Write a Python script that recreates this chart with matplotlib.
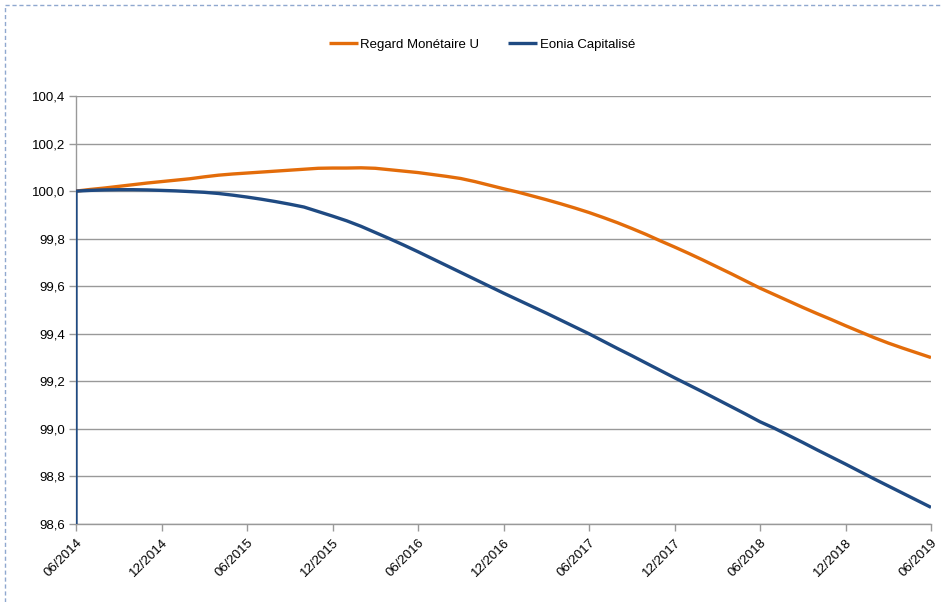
import matplotlib
matplotlib.use("Agg")
import matplotlib.pyplot as plt
from matplotlib.lines import Line2D

plt.rcParams['font.family'] = ['Liberation Sans', 'DejaVu Sans']

# months since 06/2014
months = list(range(0, 61))
regard = [100.000, 100.007, 100.013, 100.020, 100.027, 100.034, 100.040, 100.046, 100.052, 100.060,
          100.067, 100.072, 100.076, 100.080, 100.084, 100.088, 100.092, 100.096, 100.097, 100.097,
          100.098, 100.096, 100.090, 100.084, 100.078, 100.070, 100.062, 100.053, 100.040, 100.025,
          100.010, 99.996, 99.980, 99.964, 99.947, 99.929, 99.910, 99.889, 99.867, 99.843,
          99.818, 99.791, 99.765, 99.738, 99.710, 99.681, 99.652, 99.622, 99.592, 99.565,
          99.538, 99.511, 99.485, 99.460, 99.434, 99.409, 99.384, 99.361, 99.340, 99.320, 99.300]

eonia_months = [0] + months
eonia = [98.6, 100.000, 100.003, 100.005, 100.006, 100.006, 100.005, 100.003, 100.001, 99.998, 99.995,
         99.990, 99.983, 99.975, 99.966, 99.956, 99.945, 99.933, 99.914, 99.895, 99.875,
         99.852, 99.826, 99.800, 99.773, 99.745, 99.716, 99.687, 99.658, 99.629, 99.600,
         99.571, 99.543, 99.515, 99.487, 99.458, 99.429, 99.400, 99.369, 99.338, 99.308,
         99.277, 99.246, 99.215, 99.185, 99.155, 99.124, 99.093, 99.062, 99.030, 99.003,
         98.973, 98.943, 98.912, 98.882, 98.852, 98.821, 98.790, 98.760, 98.730, 98.700, 98.670]

xtick_pos = [0, 6, 12, 18, 24, 30, 36, 42, 48, 54, 60]
xtick_labels = ['06/2014', '12/2014', '06/2015', '12/2015', '06/2016', '12/2016',
                '06/2017', '12/2017', '06/2018', '12/2018', '06/2019']
ytick_vals = [98.6, 98.8, 99.0, 99.2, 99.4, 99.6, 99.8, 100.0, 100.2, 100.4]
ytick_labels = ['98,6', '98,8', '99,0', '99,2', '99,4', '99,6', '99,8', '100,0', '100,2', '100,4']

W, H = 943, 602
fig = plt.figure(figsize=(W / 100, H / 100), dpi=100)
ax = fig.add_axes([76 / W, 1 - 524 / H, (931 - 76) / W, (524 - 96) / H])

orange = '#E36C0A'
blue = '#1F4A82'
grid_c = '#999999'

ax.plot(months, regard, color=orange, lw=2.4, label='Regard Monétaire U', solid_capstyle='butt', zorder=3)
ax.plot(eonia_months, eonia, color=blue, lw=2.4, label='Eonia Capitalisé', solid_capstyle='butt', zorder=4)

ax.set_xlim(0, 60)
ax.set_ylim(98.6, 100.4)
ax.set_yticks(ytick_vals)
ax.set_yticklabels(ytick_labels, fontsize=9.5)
ax.set_xticks(xtick_pos)
ax.set_xticklabels(xtick_labels, fontsize=9.5, rotation=45, ha='right', va='top', rotation_mode='anchor')
ax.yaxis.grid(True, color=grid_c, lw=1)
ax.set_axisbelow(True)
for s in ['top', 'right']:
    ax.spines[s].set_visible(False)
for s in ['left', 'bottom']:
    ax.spines[s].set_color(grid_c)
    ax.spines[s].set_linewidth(1)
ax.tick_params(axis='both', colors=grid_c, labelcolor='black', length=5, width=1)
ax.tick_params(axis='x', pad=4)
ax.tick_params(axis='y', pad=3)

leg = fig.legend(loc='center', bbox_to_anchor=(482 / W, 1 - 45 / H), ncol=2, frameon=False,
                 fontsize=9.5, handlelength=2.2, handletextpad=0.2, columnspacing=2.2)

# dashed frame
fc = '#8FA8CF'
fig.add_artist(Line2D([5 / W, 1], [1 - 5 / H, 1 - 5 / H], transform=fig.transFigure,
                      color=fc, lw=1, ls=(0, (3, 2))))
fig.add_artist(Line2D([5 / W, 5 / W], [0, 1 - 5 / H], transform=fig.transFigure,
                      color=fc, lw=1, ls=(0, (3, 2))))

fig.savefig('out.png', dpi=100)
